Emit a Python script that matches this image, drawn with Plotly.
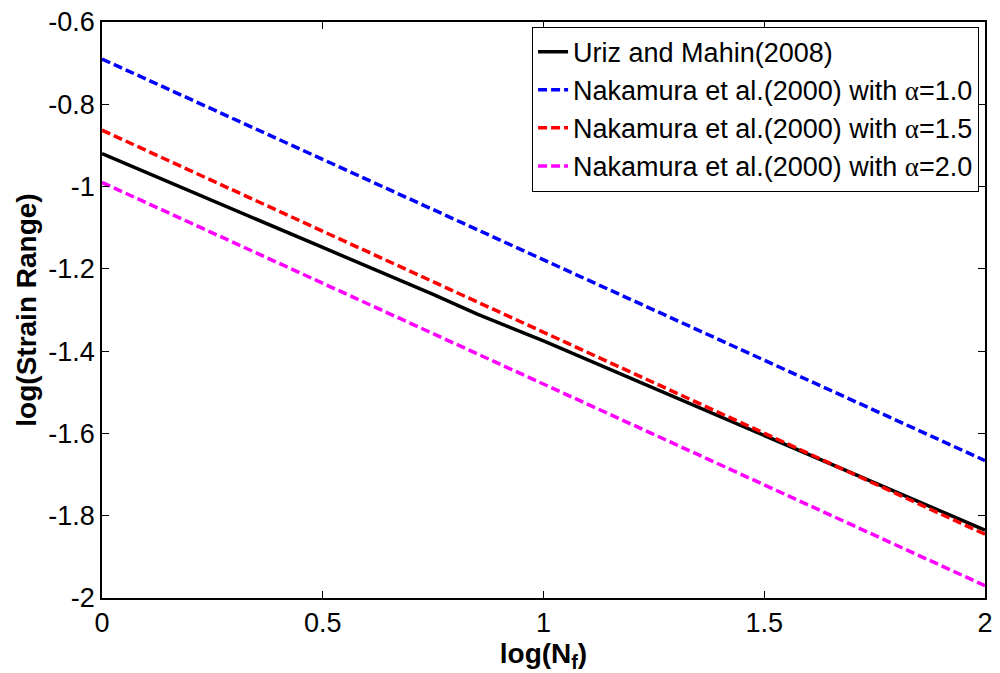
import plotly.graph_objects as go

# Data
x_uriz = [0, 0.25, 0.5, 0.75, 0.85, 1.0, 1.25, 1.5, 1.75, 2.0]
y_uriz = [-0.92, -1.035, -1.148, -1.262, -1.31, -1.375, -1.49, -1.605, -1.72, -1.835]

x_nak = [0, 0.5, 1.0, 1.5, 2.0]
y_a10 = [-0.69, -0.934, -1.178, -1.422, -1.666]
y_a15 = [-0.863, -1.109, -1.354, -1.60, -1.845]
y_a20 = [-0.99, -1.235, -1.48, -1.725, -1.97]

x_ticks = [0, 0.5, 1, 1.5, 2]
x_ticklabels = ["0", "0.5", "1", "1.5", "2"]
y_ticks = [-2, -1.8, -1.6, -1.4, -1.2, -1, -0.8, -0.6]
y_ticklabels = ["-2", "-1.8", "-1.6", "-1.4", "-1.2", "-1", "-0.8", "-0.6"]

alpha = '<span style="font-family:Liberation Serif">α</span>'
names = [
    "Uriz and Mahin(2008)",
    f"Nakamura et al.(2000) with {alpha}=1.0",
    f"Nakamura et al.(2000) with {alpha}=1.5",
    f"Nakamura et al.(2000) with {alpha}=2.0",
]

dash = "9px,4px"
fig = go.Figure()
fig.add_trace(go.Scatter(x=x_uriz, y=y_uriz, mode="lines", name=names[0],
                         line=dict(color="black", width=3.5)))
fig.add_trace(go.Scatter(x=x_nak, y=y_a10, mode="lines", name=names[1],
                         line=dict(color="#0000ff", width=3.5, dash=dash)))
fig.add_trace(go.Scatter(x=x_nak, y=y_a15, mode="lines", name=names[2],
                         line=dict(color="#ff0000", width=3.5, dash=dash)))
fig.add_trace(go.Scatter(x=x_nak, y=y_a20, mode="lines", name=names[3],
                         line=dict(color="#ff00ff", width=3.5, dash=dash)))

axis_common = dict(
    showgrid=False, zeroline=False, showline=True, linecolor="black", linewidth=1.5,
    mirror="ticks", ticks="inside", ticklen=7, tickcolor="black", tickwidth=1,
    tickfont=dict(family="Liberation Sans, Arial", size=27, color="black"),
)

fig.update_layout(
    width=1000, height=673,
    margin=dict(l=102, r=7, t=22, b=75),
    paper_bgcolor="white", plot_bgcolor="white",
    font=dict(family="Liberation Sans, Arial", color="black"),
    xaxis=dict(range=[0, 2], tickvals=x_ticks, ticktext=x_ticklabels,
               title=dict(text="<b>log(N<sub>f</sub>)</b>", font=dict(size=28), standoff=2),
               **axis_common),
    yaxis=dict(range=[-2, -0.6], tickvals=y_ticks, ticktext=y_ticklabels,
               title=dict(text="<b>log(Strain Range)</b>", font=dict(size=28), standoff=4),
               **axis_common),
    legend=dict(x=0.9933, y=0.992, xanchor="right", yanchor="top",
                bordercolor="black", borderwidth=1, bgcolor="white",
                font=dict(family="Liberation Sans, Arial", size=27, color="black"),
                tracegroupgap=0),
    showlegend=True,
)

fig.write_html("out.html")
